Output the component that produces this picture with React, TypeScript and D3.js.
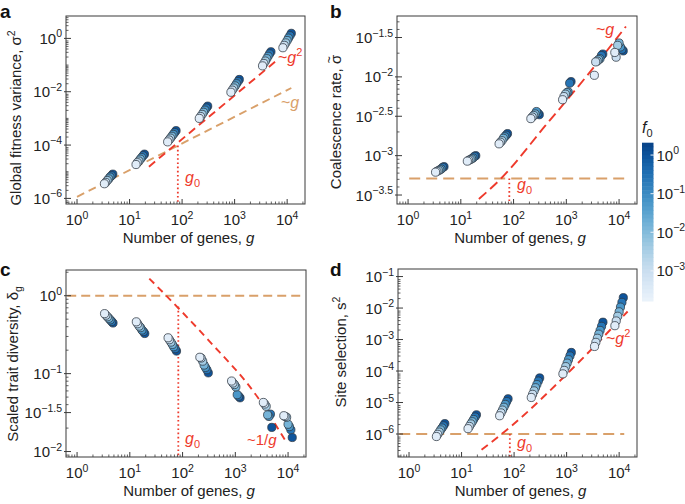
import React from 'react';
import * as d3 from 'd3';

// ---------------- data ----------------
const clusterG = [4, 16, 64, 256, 1024, 4096, 10000];
const gJitter = [0.83, 0.88, 0.94, 1.0, 1.06, 1.13, 1.2];
const f0Levels = [3e-4, 1e-3, 4e-3, 1.5e-2, 6e-2, 0.25, 1];

// log10 values, rows = g clusters, cols = f0 levels (light -> dark)
const sigma2Log = [
  [-5.45, -5.40, -5.33, -5.27, -5.20, -5.15, -5.09],
  [-4.73, -4.66, -4.60, -4.53, -4.47, -4.40, -4.34],
  [-3.88, -3.81, -3.74, -3.67, -3.60, -3.53, -3.46],
  [-3.00, -2.93, -2.85, -2.77, -2.69, -2.61, -2.54],
  [-2.02, -1.94, -1.86, -1.78, -1.70, -1.62, -1.54],
  [-1.03, -0.94, -0.85, -0.76, -0.67, -0.58, -0.50],
  [-0.35, -0.26, -0.17, -0.08, 0.01, 0.10, 0.19],
];
const coalLog = [
  [-3.21, -3.20, -3.19, -3.18, -3.17, -3.15, -3.14],
  [-3.07, -3.06, -3.05, -3.04, -3.03, -3.01, -3.00],
  [-2.85, -2.83, -2.81, -2.78, -2.76, -2.74, -2.72],
  [-2.53, -2.51, -2.49, -2.47, -2.44, -2.46, -2.48],
  [-2.29, -2.25, -2.22, -2.20, -2.19, -2.08, -2.06],
  [-1.98, -1.81, -1.80, -1.78, -1.77, -1.73, -1.71],
  [-1.69, -1.75, -1.60, -1.57, -1.62, -1.65, -1.67],
];
const deltaLog = [
  [-0.23, -0.25, -0.27, -0.29, -0.31, -0.33, -0.35],
  [-0.335, -0.36, -0.39, -0.41, -0.44, -0.46, -0.485],
  [-0.54, -0.565, -0.595, -0.625, -0.655, -0.68, -0.71],
  [-0.79, -0.80, -0.84, -0.89, -0.92, -0.95, -0.99],
  [-1.095, -1.12, -1.14, -1.17, -1.27, -1.29, -1.31],
  [-1.37, -1.39, -1.42, -1.53, -1.55, -1.52, -1.69],
  [-1.54, -1.55, -1.56, -1.65, -1.68, -1.72, -1.82],
];
const s2Log = [
  [-6.08, -6.01, -5.94, -5.87, -5.81, -5.74, -5.67],
  [-5.83, -5.76, -5.68, -5.61, -5.54, -5.46, -5.39],
  [-5.42, -5.33, -5.24, -5.15, -5.06, -4.97, -4.88],
  [-4.84, -4.74, -4.63, -4.53, -4.43, -4.32, -4.22],
  [-4.09, -3.98, -3.86, -3.75, -3.64, -3.52, -3.41],
  [-3.22, -3.09, -2.96, -2.83, -2.71, -2.58, -2.45],
  [-2.56, -2.41, -2.26, -2.12, -1.97, -1.82, -1.67],
];

// reference curves: [g, log10 value]
const aLinear = [[1, -5.94], [12000, -1.86]];
const aQuad = [[23.4, -4.81], [6200, -0.84]];
const bFlat = [[1.05, -3.29], [13500, -3.29]];
const bLinear = [[22, -3.55], [58, -3.29], [400, -2.62], [2500, -1.98], [13500, -1.36]];
const cFlat = [[0.65, 0], [21000, 0]];
const cInverse = [[23.4, 0.22], [290, -0.55], [2630, -1.30], [9100, -1.87]];
const dFlat = [[0.65, -6.0], [12500, -6.0]];
const dQuad = [[24, -6.5], [87, -5.76], [1050, -4.07], [14500, -2.11]];
const g0 = 83;
const g0Top = { a: -4.02, b: -3.29, c: -0.14, d: -6.0 };

const xTickExps = [0, 1, 2, 3, 4];
const aYTicks = [-6, -4, -2, 0];
const bYTicks = [-3.5, -3, -2.5, -2, -1.5];
const cYTicks = [-2, -1.5, -1, 0];
const dYTicks = [-6, -5, -4, -3, -2, -1];
const cbTicks = [0, -1, -2, -3];

// ---------------- styles ----------------
const FONT = "'Liberation Sans', Arial, Helvetica, sans-serif";
const ORANGE = '#d9a06a';
const RED = '#ee3a2c';
const AXIS = '#3a3a3a';
const X_LOG_MIN = -0.21;
const X_LOG_MAX = 4.34;
const CB_MIN = -3.78;
const CB_MAX = 0.32;

const colorOf = (logf: number) =>
  d3.interpolateBlues(0.06 + ((logf - CB_MIN) / (CB_MAX - CB_MIN)) * 0.87);

const fmtExp = (e: number) => (e < 0 ? '\u2212' + String(Math.abs(e)) : String(e));

function Pow({ x, y, exp, anchor }: { x: number; y: number; exp: number; anchor: string }) {
  return (
    <text x={x} y={y} textAnchor={anchor} fontSize={15} fill="#222" fontFamily={FONT}>
      10
      <tspan dy={-6.5} fontSize={10.5}>
        {fmtExp(exp)}
      </tspan>
    </text>
  );
}

type Curve = { pts: number[][]; color: string; dash: string; width?: number };

type Cfg = {
  id: string;
  left: number;
  right: number;
  top: number;
  bottom: number;
  yMin: number;
  yMax: number;
  yTicks: number[];
  data: number[][];
  curves: Curve[];
  g0From: number;
  yLabel: React.ReactNode;
  yLabelX: number;
  yLabelY: number;
  annotations: React.ReactNode;
  letter: string;
  letterX: number;
  letterY: number;
};

function logMinor(minE: number, maxE: number) {
  const out: number[] = [];
  for (let d = Math.floor(minE) - 1; d <= Math.ceil(maxE); d++) {
    for (let k = 1; k <= 9; k++) {
      const v = k * Math.pow(10, d);
      const l = Math.log10(v);
      if (l >= minE && l <= maxE) out.push(v);
    }
  }
  return out;
}

function Panel({ cfg }: { cfg: Cfg }) {
  const x = d3
    .scaleLog()
    .domain([Math.pow(10, X_LOG_MIN), Math.pow(10, X_LOG_MAX)])
    .range([cfg.left, cfg.right]);
  const y = d3
    .scaleLog()
    .domain([Math.pow(10, cfg.yMin), Math.pow(10, cfg.yMax)])
    .range([cfg.bottom, cfg.top]);
  const line = d3
    .line<number[]>()
    .x((d) => x(d[0]))
    .y((d) => y(Math.pow(10, d[1])))
    .curve(d3.curveMonotoneX);

  const xMinor = logMinor(X_LOG_MIN, X_LOG_MAX).filter(
    (v) => !xTickExps.some((e) => Math.abs(Math.log10(v) - e) < 1e-6)
  );
  const yMinor = logMinor(cfg.yMin, cfg.yMax).filter(
    (v) => !cfg.yTicks.some((e) => Math.abs(y(v) - y(Math.pow(10, e))) < 2)
  );
  const clipId = 'clip-' + cfg.id;

  const pts: { g: number; v: number; j: number }[] = [];
  cfg.data.forEach((row, i) => {
    row.forEach((v, j) => pts.push({ g: clusterG[i] * gJitter[j], v: Math.pow(10, v), j }));
  });
  pts.sort((p, q) => q.j - p.j);

  return (
    <g>
      <defs>
        <clipPath id={clipId}>
          <rect x={cfg.left} y={cfg.top} width={cfg.right - cfg.left} height={cfg.bottom - cfg.top} />
        </clipPath>
      </defs>
      <g clipPath={`url(#${clipId})`}>
        {cfg.curves.map((c, i) => (
          <path
            key={i}
            d={line(c.pts) || ''}
            fill="none"
            stroke={c.color}
            strokeWidth={c.width ?? 1.9}
            strokeDasharray={c.dash}
          />
        ))}
        <line
          x1={x(g0)}
          x2={x(g0)}
          y1={y(Math.pow(10, cfg.g0From))}
          y2={cfg.bottom}
          stroke={RED}
          strokeWidth={1.8}
          strokeDasharray="1.6,2.6"
        />
        {pts.map((p, k) => (
          <circle
            key={k}
            cx={x(p.g)}
            cy={y(p.v)}
            r={4.1}
            fill={colorOf(Math.log10(f0Levels[p.j]))}
            stroke="#2c3540"
            strokeWidth={0.75}
          />
        ))}
      </g>
      {/* frame */}
      <rect
        x={cfg.left}
        y={cfg.top}
        width={cfg.right - cfg.left}
        height={cfg.bottom - cfg.top}
        fill="none"
        stroke={AXIS}
        strokeWidth={1}
      />
      {/* x ticks */}
      {xTickExps.map((e) => (
        <g key={'xt' + e}>
          <line x1={x(Math.pow(10, e))} x2={x(Math.pow(10, e))} y1={cfg.bottom} y2={cfg.bottom - 5} stroke={AXIS} />
          <Pow x={x(Math.pow(10, e))} y={cfg.bottom + 21} exp={e} anchor="middle" />
        </g>
      ))}
      {xMinor.map((v, i) => (
        <line key={'xm' + i} x1={x(v)} x2={x(v)} y1={cfg.bottom} y2={cfg.bottom - 2.5} stroke={AXIS} strokeWidth={0.8} />
      ))}
      {/* y ticks */}
      {cfg.yTicks.map((e) => (
        <g key={'yt' + e}>
          <line x1={cfg.left} x2={cfg.left + 5} y1={y(Math.pow(10, e))} y2={y(Math.pow(10, e))} stroke={AXIS} />
          <line x1={cfg.left - 2} x2={cfg.left} y1={y(Math.pow(10, e))} y2={y(Math.pow(10, e))} stroke={AXIS} />
          <Pow x={cfg.left - 4} y={y(Math.pow(10, e)) + 5.5} exp={e} anchor="end" />
        </g>
      ))}
      {yMinor.map((v, i) => (
        <line key={'ym' + i} x1={cfg.left} x2={cfg.left + 2.5} y1={y(v)} y2={y(v)} stroke={AXIS} strokeWidth={0.8} />
      ))}
      {/* axis labels */}
      <text
        x={(cfg.left + cfg.right) / 2 + 3}
        y={cfg.bottom + 39}
        textAnchor="middle"
        fontSize={15}
        fill="#222"
        fontFamily={FONT}
      >
        Number of genes, <tspan fontStyle="italic">g</tspan>
      </text>
      <text
        transform={`translate(${cfg.yLabelX},${cfg.yLabelY}) rotate(-90)`}
        textAnchor="middle"
        fontSize={15}
        fill="#222"
        fontFamily={FONT}
      >
        {cfg.yLabel}
      </text>
      <text x={cfg.letterX} y={cfg.letterY} fontSize={19} fontWeight="bold" fill="#111" fontFamily={FONT}>
        {cfg.letter}
      </text>
      {cfg.annotations}
    </g>
  );
}

const G0Label = ({ x, y }: { x: number; y: number }) => (
  <text x={x} y={y} fontSize={16} fill={RED} fontFamily={FONT}>
    <tspan fontStyle="italic">g</tspan>
    <tspan dy={4} fontSize={11}>0</tspan>
  </text>
);

const panels: Cfg[] = [
  {
    id: 'a',
    left: 66,
    right: 305,
    top: 16,
    bottom: 204,
    yMin: -6.21,
    yMax: 0.84,
    yTicks: aYTicks,
    data: sigma2Log,
    curves: [
      { pts: aLinear, color: ORANGE, dash: '8,5' },
      { pts: aQuad, color: RED, dash: '8,5' },
    ],
    g0From: g0Top.a,
    yLabel: (
      <>
        Global fitness variance, σ<tspan dy={-6} fontSize={10.5}>2</tspan>
      </>
    ),
    yLabelX: 21,
    yLabelY: 118,
    annotations: (
      <>
        <text x={278} y={63} fontSize={16} fill={RED} fontFamily={FONT}>
          ~<tspan fontStyle="italic">g</tspan>
          <tspan dy={-7} fontSize={11}>2</tspan>
        </text>
        <text x={281} y={108} fontSize={16} fill={ORANGE} fontFamily={FONT}>
          ~<tspan fontStyle="italic">g</tspan>
        </text>
        <G0Label x={185} y={183} />
      </>
    ),
    letter: 'a',
    letterX: 0,
    letterY: 18,
  },
  {
    id: 'b',
    left: 397,
    right: 637,
    top: 16,
    bottom: 204,
    yMin: -3.614,
    yMax: -1.227,
    yTicks: bYTicks,
    data: coalLog,
    curves: [
      { pts: bFlat, color: ORANGE, dash: '11,6' },
      { pts: bLinear, color: RED, dash: '10,5' },
    ],
    g0From: g0Top.b,
    yLabel: (
      <>
        Coalescence rate, σ
        <tspan dx={-8.5} dy={-8} fontSize={12}>~</tspan>
      </>
    ),
    yLabelX: 341,
    yLabelY: 122,
    annotations: (
      <>
        <text x={596} y={35} fontSize={16} fill={RED} fontFamily={FONT}>
          ~<tspan fontStyle="italic">g</tspan>
        </text>
        <G0Label x={517} y={190} />
      </>
    ),
    letter: 'b',
    letterX: 330,
    letterY: 18,
  },
  {
    id: 'c',
    left: 66,
    right: 306,
    top: 270,
    bottom: 457,
    yMin: -2.07,
    yMax: 0.33,
    yTicks: cYTicks,
    data: deltaLog,
    curves: [
      { pts: cFlat, color: ORANGE, dash: '9,5' },
      { pts: cInverse, color: RED, dash: '7,5' },
    ],
    g0From: g0Top.c,
    yLabel: (
      <>
        Scaled trait diversity, δ<tspan dy={4} fontSize={10.5}>g</tspan>
      </>
    ),
    yLabelX: 18,
    yLabelY: 364,
    annotations: (
      <>
        <G0Label x={185} y={444} />
        <text x={247} y={445} fontSize={15} fill={RED} fontFamily={FONT}>
          ~1/<tspan fontStyle="italic">g</tspan>
        </text>
      </>
    ),
    letter: 'c',
    letterX: 0,
    letterY: 276,
  },
  {
    id: 'd',
    left: 398,
    right: 637,
    top: 269,
    bottom: 457,
    yMin: -6.73,
    yMax: -0.76,
    yTicks: dYTicks,
    data: s2Log,
    curves: [
      { pts: dFlat, color: ORANGE, dash: '11,6' },
      { pts: dQuad, color: RED, dash: '8,5' },
    ],
    g0From: g0Top.d,
    yLabel: (
      <>
        Site selection, s<tspan dy={-6} fontSize={10.5}>2</tspan>
      </>
    ),
    yLabelX: 346,
    yLabelY: 352,
    annotations: (
      <>
        <text x={606} y={344} fontSize={16} fill={RED} fontFamily={FONT}>
          ~<tspan fontStyle="italic">g</tspan>
          <tspan dy={-7} fontSize={11}>2</tspan>
        </text>
        <G0Label x={517} y={448} />
      </>
    ),
    letter: 'd',
    letterX: 330,
    letterY: 276,
  },
];

function ColorBar() {
  const top = 142.7;
  const bottom = 301;
  const left = 642;
  const width = 11.5;
  const s = d3.scaleLinear().domain([CB_MIN, CB_MAX]).range([bottom, top]);
  const n = 40;
  const bands = d3.range(n).map((i) => CB_MIN + ((i + 0.5) / n) * (CB_MAX - CB_MIN));
  const h = (bottom - top) / n;
  return (
    <g>
      {bands.map((v, i) => (
        <rect key={i} x={left} y={s(v) - h / 2} width={width} height={h + 0.5} fill={colorOf(v)} />
      ))}
      {cbTicks.map((e) => (
        <g key={e}>
          <line x1={left + width - 3} x2={left + width + 1} y1={s(e)} y2={s(e)} stroke="#e8eef6" strokeWidth={1} />
          <Pow x={left + width + 3} y={s(e) + 5.5} exp={e} anchor="start" />
        </g>
      ))}
      <text x={642} y={133} fontSize={16} fill="#222" fontFamily={FONT}>
        <tspan fontStyle="italic">f</tspan>
        <tspan dy={4} fontSize={11}>0</tspan>
      </text>
    </g>
  );
}

export default function App() {
  return (
    <svg
      width={685}
      height={504}
      viewBox="0 0 685 504"
      style={{ position: 'absolute', left: 0, top: 0, background: '#fff' }}
    >
      <rect x={0} y={0} width={685} height={504} fill="#fff" />
      {panels.map((p) => (
        <Panel key={p.id} cfg={p} />
      ))}
      <ColorBar />
    </svg>
  );
}
